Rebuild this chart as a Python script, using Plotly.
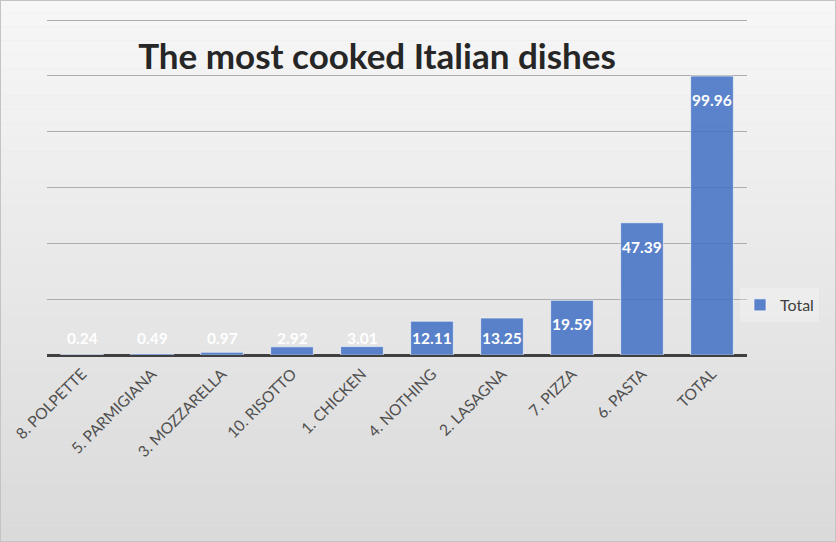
import plotly.graph_objects as go

dishes = ['8. POLPETTE', '5. PARMIGIANA', '3. MOZZARELLA', '10. RISOTTO', '1. CHICKEN',
          '4. NOTHING', '2. LASAGNA', '7. PIZZA', '6. PASTA', 'TOTAL']
totals = [0.24, 0.49, 0.97, 2.92, 3.01, 12.11, 13.25, 19.59, 47.39, 99.96]

fig = go.Figure()

# fake excel gradient background
n = 40
for i in range(n):
    c = int(247 - (247 - 218) * i / (n - 1))
    fig.add_shape(type='rect', xref='paper', yref='paper',
                  x0=-0.1, x1=1.2, y0=1.06 - (i + 1) * 1.65 / n, y1=1.06 - i * 1.65 / n,
                  fillcolor='rgb(%d,%d,%d)' % (c, c, c), line_width=0, layer='below')

fig.add_trace(go.Bar(
    x=dishes, y=totals, name='Total',
    marker=dict(color='rgba(68,114,196,0.87)', line=dict(color='rgba(255,255,255,0.6)', width=1)),
    width=0.61,
))

# data labels, excel style "inside end"
px_per_unit = 336 / 120
for d, v in zip(dishes, totals):
    shift = -min(24, v * px_per_unit - 17)
    fig.add_annotation(x=d, y=v, text='<b>%.2f</b>' % v, showarrow=False,
                       yanchor='middle', yshift=shift,
                       font=dict(family='Lato', size=15.5, color='white'))

fig.update_layout(
    width=836, height=542,
    margin=dict(l=47, r=89, t=19, b=187),
    paper_bgcolor='#e4e4e4',
    plot_bgcolor='rgba(0,0,0,0)',
    title=dict(text='<b>The most cooked Italian dishes</b>', x=0.451, xanchor='center',
               y=0.895, yanchor='middle', xref='container', yref='container',
               font=dict(family='Lato', size=35, color='#262626')),
    showlegend=True,
    legend=dict(x=0.99, xanchor='left', y=0.149, yanchor='middle',
                bgcolor='rgba(255,255,255,0.25)', font=dict(family='Lato', size=16, color='#404040'),
                itemwidth=30, tracegroupgap=0),
    font=dict(family='Lato', color='#595959'),
)
fig.update_xaxes(tickangle=-45, tickfont=dict(size=15.5, color='#505050'), showgrid=False,
                 showline=False, ticks='', ticklabelstandoff=6)
fig.update_yaxes(range=[0, 120.4], tick0=0, dtick=20, showticklabels=False, showgrid=True,
                 gridcolor='#adadad', gridwidth=1, zeroline=True, zerolinecolor='#404040',
                 zerolinewidth=3)

fig.add_shape(type='rect', xref='paper', yref='paper', x0=-47/700, x1=1 + 89/700,
              y0=-187/336, y1=1 + 19/336, line=dict(color='#c4c4c4', width=2))

fig.write_html("out.html", config={'displayModeBar': False},
               post_script="document.body.style.margin='0';")
